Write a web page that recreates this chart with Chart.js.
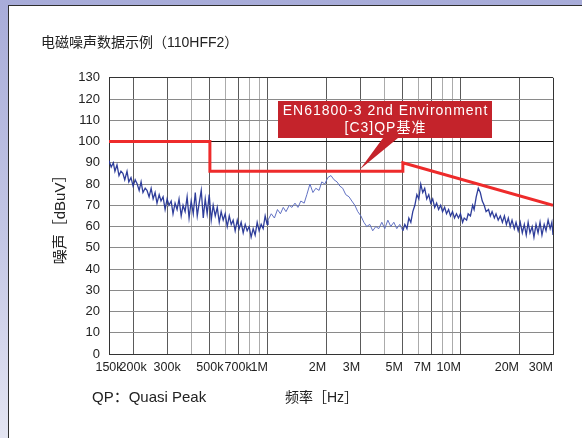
<!DOCTYPE html>
<html><head><meta charset="utf-8">
<script src="https://cdn.jsdelivr.net/npm/chart.js@4.4.1/dist/chart.umd.min.js"></script>
<style>
html,body{margin:0;padding:0;width:582px;height:438px;overflow:hidden;}
#bg{position:absolute;left:0;top:0;width:582px;height:438px;background:linear-gradient(180deg,#a8acd9 0%,#c4c7e5 55%,#e4e5f2 100%);}
#panel{position:absolute;left:8px;top:5px;width:620px;height:480px;background:#fff;border-left:1.5px solid #2e2e2e;border-top:1.5px solid #2e2e2e;}
#c{position:absolute;left:0;top:0;}
.txt{position:absolute;font-family:"Liberation Sans",Arial,"Noto Sans CJK SC",sans-serif;color:#222;white-space:nowrap;line-height:1;}
</style></head>
<body>
<div id="bg"></div><div id="panel"></div>
<canvas id="c" width="582" height="438"></canvas>
<div class="txt" style="left:92px;top:389px;font-size:15px">QP：Quasi Peak</div>
<div class="txt" style="left:285px;top:390px;font-size:14px">频率［Hz］</div>
<script>
// ---- data ----
const chartTitle = '电磁噪声数据示例（110HFF2）';
const yAxisTitle = '噪声［dBuV］';
const calloutLines = ['EN61800-3 2nd Environment', '[C3]QP基准'];
const calloutTipMHz = 3.0;
const calloutTipDb = 87;

// EN61800-3 C3 quasi-peak limit (MHz, dBuV)
const limitFreqMHz = [0.15, 0.5, 0.5, 5, 5, 30];
const limitDb      = [100, 100, 86, 86, 90, 70];

const noiseFreqMHz = [
 0.150,0.154,0.158,0.161,0.165,0.169,0.173,0.177,0.181,0.186,
 0.190,0.195,0.200,0.205,0.210,0.215,0.220,0.225,0.231,0.236,
 0.242,0.248,0.254,0.260,0.266,0.273,0.279,0.286,0.293,0.300,
 0.307,0.315,0.322,0.330,0.338,0.346,0.355,0.363,0.372,0.381,
 0.390,0.400,0.410,0.420,0.430,0.440,0.451,0.462,0.473,0.484,
 0.496,0.508,0.520,0.533,0.546,0.559,0.572,0.586,0.600,0.615,
 0.630,0.645,0.660,0.676,0.693,0.709,0.726,0.744,0.762,0.780,
 0.799,0.818,0.838,0.858,0.879,0.900,0.922,0.944,0.967,0.990,
 1.00,1.04,1.08,1.12,1.16,1.20,1.24,1.29,1.33,1.38,
 1.43,1.48,1.54,1.59,1.65,1.71,1.77,1.84,1.90,1.97,
 2.04,2.12,2.20,2.28,2.36,2.44,2.53,2.63,2.72,2.82,
 2.92,3.03,3.14,3.25,3.37,3.49,3.62,3.75,3.89,4.03,
 4.18,4.33,4.49,4.65,4.82,5.00,
 5.12,5.25,5.37,5.50,5.63,5.77,5.91,6.05,6.19,6.34,
 6.49,6.65,6.81,6.97,7.14,7.31,7.48,7.66,7.85,8.03,
 8.23,8.42,8.63,8.83,9.04,9.26,9.48,9.71,9.94,10.2,
 10.4,10.7,10.9,11.2,11.5,11.7,12.0,12.3,12.6,12.9,
 13.2,13.5,13.9,14.2,14.5,14.9,15.2,15.6,16.0,16.4,
 16.8,17.2,17.6,18.0,18.4,18.9,19.3,19.8,20.3,20.8,
 21.3,21.8,22.3,22.8,23.4,23.9,24.5,25.1,25.7,26.3,
 27.0,27.6,28.3,29.0,29.6,30.0
];
const noiseDb = [
 91,88,90,86,89,84,86,85,82,86,
 81,83,79,82,80,77,81,76,78,77,
 74,78,73,76,71,75,72,74,68,73,
 70,72,66,71,68,73,65,70,67,74,
 64,72,66,76,65,71,77,64,73,66,
 75,63,70,65,69,62,67,63,66,60,
 65,61,63,58,63,59,62,57,61,58,
 60,55,59,56,62,58,61,59,65,61,
 63,66,64,68,66,69,67,70,69,71,
 69,72,71,75,80,76,78,77,81,80,
 83,84,82,81,79,78,75,74,72,70,
 67,65,62,60,61,58,60,59,62,59,
 63,60,62,59,61,58,
 61,59,64,62,67,70,75,73,80,76,
 78,73,75,71,73,69,71,68,70,67,
 69,66,68,65,67,64,66,64,66,62,
 64,63,66,65,70,68,74,78,76,72,
 70,67,68,65,67,64,66,63,65,62,
 65,61,64,60,63,59,62,58,62,57,
 61,56,62,57,60,55,61,57,62,56,
 61,58,63,59,62,56
];

// axes
const gridFreqMHz = [0.15,0.2,0.3,0.4,0.5,0.6,0.7,0.8,0.9,1,2,3,4,5,6,7,8,9,10,20,30];
const kTickFreqs  = [0.15,0.2,0.3,0.5,0.7];
const kTickLabels = ['150k','200k','300k','500k','700k'];
const mTickFreqs  = [1,2,3,5,7,10,20,30];
const mTickLabels = ['1M','2M','3M','5M','7M','10M','20M','30M'];
const yTickValues = [0,10,20,30,40,50,60,70,80,90,100,110,120,130];

// ---- chart ----
const FONT = '"Liberation Sans", Arial, "Noto Sans CJK SC", sans-serif';
Chart.defaults.font.family = FONT;
Chart.defaults.color = '#222';

const calloutPlugin = {
  id: 'callout',
  afterDatasetsDraw(chart) {
    const {ctx, scales} = chart;
    const tipX = scales.x.getPixelForValue(calloutTipMHz);
    const tipY = scales.y.getPixelForValue(calloutTipDb);
    const L = 278, T = 101, W = 214, H = 37;
    ctx.save();
    ctx.fillStyle = '#c4232b';
    ctx.beginPath();
    ctx.moveTo(L, T); ctx.lineTo(L + W, T); ctx.lineTo(L + W, T + H);
    ctx.lineTo(398, T + H); ctx.lineTo(tipX, tipY); ctx.lineTo(383, T + H);
    ctx.lineTo(L, T + H); ctx.closePath(); ctx.fill();
    ctx.fillStyle = '#fff';
    ctx.font = '14px ' + FONT;
    if ('letterSpacing' in ctx) ctx.letterSpacing = '1px';
    ctx.textAlign = 'center'; ctx.textBaseline = 'middle';
    ctx.fillText(calloutLines[0], L + W / 2 + 0.5, 111);
    ctx.fillText(calloutLines[1], L + W / 2 + 0.5, 128.5);
    ctx.restore();
  }
};

const isLabeled = v => kTickFreqs.indexOf(v) >= 0 || mTickFreqs.indexOf(v) >= 0;

new Chart(document.getElementById('c'), {
  type: 'line',
  data: {
    datasets: [
      {
        label: 'EN61800-3 C3 QP',
        data: limitFreqMHz.map((f, i) => ({x: f, y: limitDb[i]})),
        borderColor: '#ee2b2b', borderWidth: 3, pointRadius: 0, tension: 0,
        borderJoinStyle: 'miter', fill: false
      },
      {
        label: 'Noise',
        data: noiseFreqMHz.map((f, i) => ({x: f, y: noiseDb[i]})),
        borderColor: 'rgba(36,52,150,0.95)', borderWidth: 1.3, pointRadius: 0, tension: 0, fill: false,
        segment: {
          borderColor: c => (c.p0.parsed.x >= 1 && c.p1.parsed.x <= 5) ? 'rgba(90,106,192,0.95)' : undefined,
          borderWidth: c => (c.p0.parsed.x >= 1 && c.p1.parsed.x <= 5) ? 1 : undefined
        }
      }
    ]
  },
  options: {
    responsive: false, animation: false, devicePixelRatio: 1,
    layout: {padding: {left: 41, right: 29, top: 0, bottom: 54}},
    plugins: {
      legend: {display: false},
      tooltip: {enabled: false},
      title: {display: true, text: chartTitle, align: 'start', color: '#222',
              font: {size: 14, weight: 'normal'}, padding: {top: 35, bottom: 26}}
    },
    scales: {
      x: {
        type: 'logarithmic', position: 'bottom', min: 0.15, max: 30,
        afterBuildTicks: s => { s.ticks = gridFreqMHz.map(v => ({value: v})); },
        afterFit: s => { s.height = 30; },
        grid: {drawTicks: false, lineWidth: 1,
               color: c => { const v = c.tick ? c.tick.value : 0; return v === 30 ? '#333' : (isLabeled(v) ? '#5a5a5a' : '#ababab'); }},
        border: {display: true, color: '#333', width: 1},
        ticks: {autoSkip: false, maxRotation: 0, minRotation: 0, padding: 6, color: '#222', font: {size: 12.5},
                callback: v => { const i = kTickFreqs.indexOf(v); return i >= 0 ? kTickLabels[i] : ''; }}
      },
      x2: {
        display: true,
        type: 'logarithmic', position: {y: 0}, min: 0.15, max: 30,
        afterBuildTicks: s => { s.ticks = mTickFreqs.map(v => ({value: v})); },
        grid: {display: false, drawTicks: false},
        border: {display: false},
        ticks: {autoSkip: false, maxRotation: 0, minRotation: 0, align: 'end', padding: 6, color: '#222', font: {size: 12.5},
                callback: v => { const i = mTickFreqs.indexOf(v); return i >= 0 ? mTickLabels[i] : ''; }}
      },
      y: {
        min: 0, max: 130,
        afterBuildTicks: s => { s.ticks = yTickValues.map(v => ({value: v})); },
        afterFit: s => { s.width = 68; },
        grid: {drawTicks: false,
               color: c => { const v = c.tick ? c.tick.value : 0; return v === 100 ? '#111' : (v === 130 ? '#333' : '#8a8a8a'); }},
        border: {display: true, color: '#333', width: 1},
        ticks: {padding: 9, color: '#222', font: {size: 13}},
        title: {display: true, text: yAxisTitle, color: '#222', font: {size: 15}, padding: {top: 11, bottom: 0}}
      }
    }
  },
  plugins: [calloutPlugin]
});
</script>
</body></html>
